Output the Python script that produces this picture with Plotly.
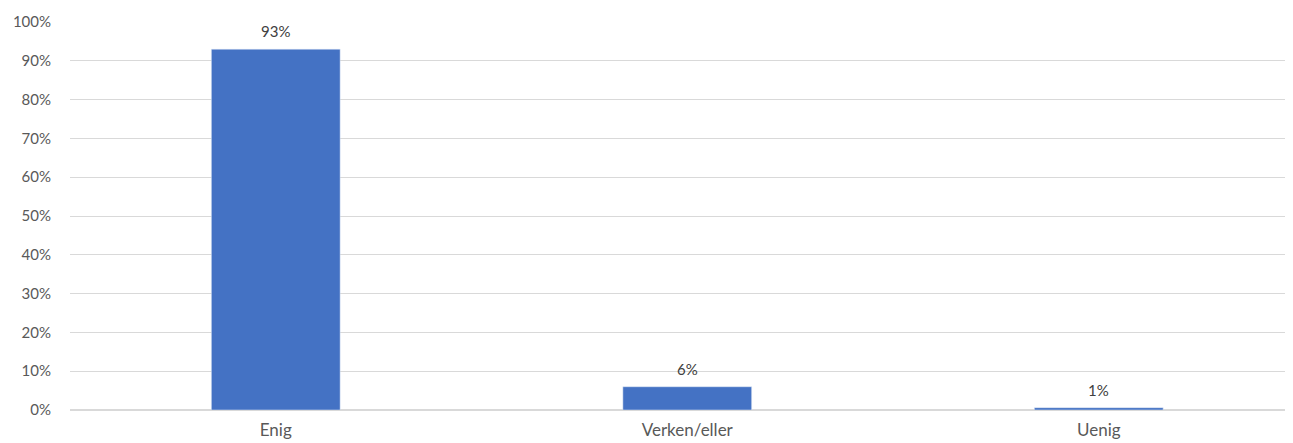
import plotly.graph_objects as go

# Data
categories = ["Enig", "Verken/eller", "Uenig"]
values = [0.93, 0.06, 0.006]

fig = go.Figure(
    go.Bar(
        x=categories,
        y=values,
        marker_color="#4472C4",
        width=0.313,
        cliponaxis=False,
    )
)

# Data labels above the bars
for cat, val in zip(categories, values):
    fig.add_annotation(
        x=cat, y=val,
        text=f"{val:.0%}",
        showarrow=False,
        yanchor="middle",
        yshift=18,
        font=dict(size=15, color="#404040"),
    )

# page body has an 8px margin, so the figure is sized to end at the window edge
fig.update_layout(
    width=1285,
    height=435,
    margin=dict(l=62, r=0, t=14, b=33, autoexpand=False),
    plot_bgcolor="white",
    paper_bgcolor="white",
    font=dict(family="Lato, Open Sans, sans-serif", size=15, color="#595959"),
    showlegend=False,
)
fig.update_xaxes(
    range=[-0.5, 2.472],
    automargin=False,
    showgrid=False,
    showline=False,
    ticks="",
    ticklabelstandoff=8,
    tickfont=dict(size=17, color="#595959"),
)
fig.update_yaxes(
    range=[0, 1],
    dtick=0.1,
    tickformat=".0%",
    automargin=False,
    showgrid=True,
    gridcolor="#d9d9d9",
    zeroline=True,
    zerolinecolor="#d9d9d9",
    ticklabelstandoff=18,
    tickfont=dict(size=15, color="#595959"),
)

fig.write_html("out.html")
